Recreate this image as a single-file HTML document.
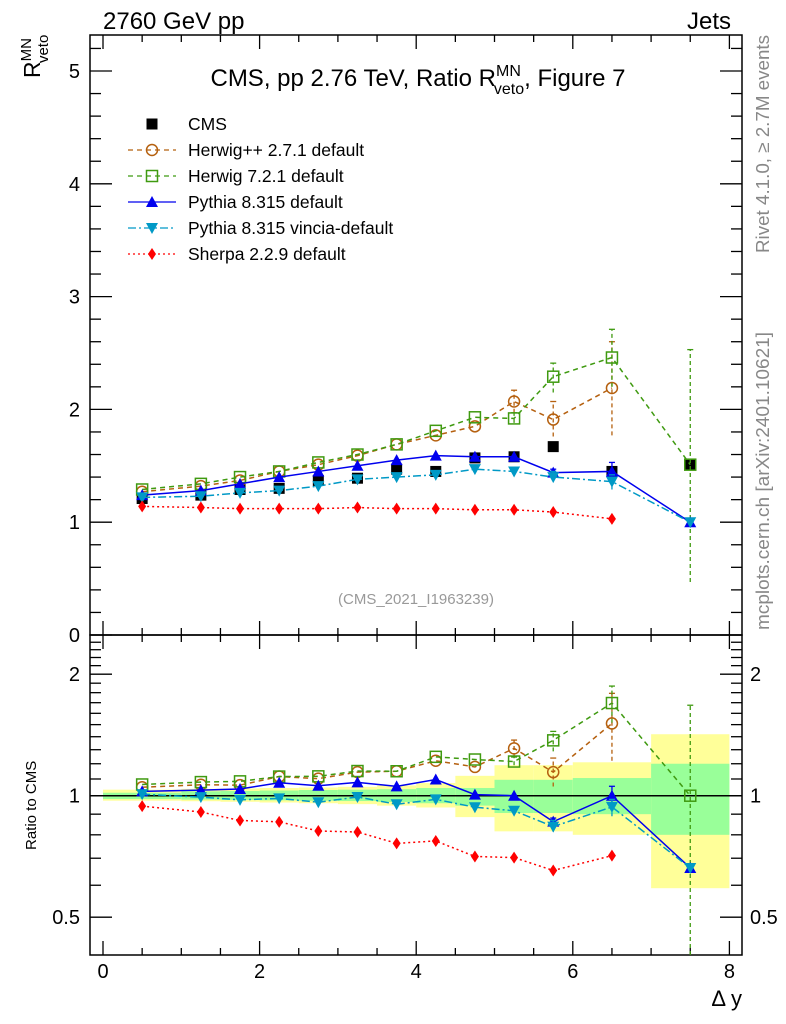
<!DOCTYPE html>
<html><head><meta charset="utf-8">
<style>
body{margin:0;background:#fff;}
svg{display:block;font-family:"Liberation Sans",sans-serif;}
</style></head>
<body>
<svg id="chart" width="786" height="1024" viewBox="0 0 786 1024" xmlns="http://www.w3.org/2000/svg">
<text x="103" y="29" font-size="24">2760 GeV pp</text>
<text x="731" y="29" font-size="24" text-anchor="end">Jets</text>
<text x="418" y="86" font-size="24" text-anchor="middle">CMS, pp 2.76 TeV, Ratio R<tspan font-size="16" dy="-10">MN</tspan><tspan font-size="16" dx="-27" dy="18">veto</tspan><tspan dy="-8">, Figure 7</tspan></text>
<text transform="translate(40,78) rotate(-90)" font-size="23">R<tspan font-size="15" dy="-9">MN</tspan><tspan font-size="15" dx="-25" dy="17">veto</tspan></text>
<text transform="translate(36,850) rotate(-90)" font-size="15">Ratio to CMS</text>
<text x="742" y="1006" font-size="22" text-anchor="end">Δ y</text>
<text transform="translate(769,253) rotate(-90)" font-size="18" fill="#888" textLength="218" lengthAdjust="spacingAndGlyphs">Rivet 4.1.0, ≥ 2.7M events</text>
<text transform="translate(769,630) rotate(-90)" font-size="18" fill="#888" textLength="298" lengthAdjust="spacingAndGlyphs">mcplots.cern.ch [arXiv:2401.10621]</text>
<text x="416" y="604" font-size="15" fill="#999" text-anchor="middle">(CMS_2021_I1963239)</text>
<g id="bands"></g><g id="axes"></g><g id="series"></g><g id="legend"></g>
</svg>
<script>
const xs = [0.5,1.25,1.75,2.25,2.75,3.25,3.75,4.25,4.75,5.25,5.75,6.5,7.5];
const cms = [1.21,1.24,1.29,1.30,1.37,1.39,1.47,1.45,1.57,1.58,1.67,1.45,1.51];
const herwigpp = [1.27,1.32,1.37,1.45,1.51,1.59,1.69,1.77,1.85,2.07,1.91,2.19,null];
const herwig7 = [1.29,1.34,1.40,1.45,1.53,1.60,1.69,1.81,1.93,1.92,2.29,2.46,1.51];
const pythia = [1.24,1.28,1.34,1.40,1.45,1.50,1.55,1.59,1.58,1.58,1.44,1.45,1.00];
const vincia = [1.22,1.23,1.26,1.28,1.32,1.38,1.40,1.42,1.47,1.45,1.40,1.36,1.00];
const sherpa = [1.14,1.13,1.12,1.12,1.12,1.13,1.12,1.12,1.11,1.11,1.09,1.03,null];
const herwigppErrLo = [null,null,null,null,null,null,null,null,null,1.97,1.76,1.77,null];
const herwigppErrHi = [null,null,null,null,null,null,null,null,null,2.17,2.07,2.60,null];
const herwig7ErrLo = [null,null,null,null,null,null,null,null,null,1.88,2.15,2.20,0.47];
const herwig7ErrHi = [null,null,null,null,null,null,null,null,null,1.97,2.41,2.71,2.53];
const pythiaErrLo = [null,null,null,null,null,null,null,null,null,null,1.42,1.40,null];
const pythiaErrHi = [null,null,null,null,null,null,null,null,null,null,1.47,1.53,null];
const vinciaErrLo = [null,null,null,null,null,null,null,null,null,null,1.36,1.29,null];
const vinciaErrHi = [null,null,null,null,null,null,null,null,null,null,1.45,1.42,null];
const binEdges = [0,1,1.5,2,2.5,3,3.5,4,4.5,5,5.5,6,7,8];
const bandOuterLo = [0.972,0.969,0.966,0.962,0.958,0.953,0.945,0.935,0.885,0.816,0.816,0.80,0.59];
const bandOuterHi = [1.035,1.04,1.042,1.045,1.048,1.052,1.06,1.075,1.12,1.19,1.19,1.21,1.42];
const bandInnerLo = [0.981,0.978,0.976,0.974,0.972,0.97,0.965,0.958,0.945,0.906,0.906,0.90,0.80];
const bandInnerHi = [1.017,1.025,1.027,1.03,1.033,1.035,1.038,1.045,1.045,1.095,1.095,1.106,1.20];
const xTicks = [0,2,4,6,8];
const yTicks = [0,1,2,3,4,5];
const rTicks = [0.5,1,2];

const NS='http://www.w3.org/2000/svg';
const L=90,R=742,T=35,MID=635,B=955;
const X=v=>103+v*78.3;
const Y=v=>635-v*112.8;
const RY=v=>795.7-121.5*Math.log2(v);
function mk(parent,tag,attrs){const e=document.createElementNS(NS,tag);for(const k in attrs)e.setAttribute(k,attrs[k]);parent.appendChild(e);return e;}
const gB=document.getElementById('bands'),gA=document.getElementById('axes'),gS=document.getElementById('series'),gL=document.getElementById('legend');

for(let i=0;i<bandOuterLo.length;i++){
  const x0=X(binEdges[i]),x1=X(binEdges[i+1]);
  let r=mk(gB,'rect',{x:x0,y:RY(bandOuterHi[i]),width:x1-x0,height:RY(bandOuterLo[i])-RY(bandOuterHi[i]),fill:'#ffff99'});
  
  
  r=mk(gB,'rect',{x:x0,y:RY(bandInnerHi[i]),width:x1-x0,height:RY(bandInnerLo[i])-RY(bandInnerHi[i]),fill:'#99ff99'});
  
  
}
let ref=mk(gB,'line',{x1:L,x2:R,y1:RY(1),y2:RY(1),stroke:'#000','stroke-width':1.5});



let f=mk(gA,'rect',{x:L,y:T,width:R-L,height:MID-T,fill:'none',stroke:'#000','stroke-width':1.5});


f=mk(gA,'rect',{x:L,y:MID,width:R-L,height:B-MID,fill:'none',stroke:'#000','stroke-width':1.5});


function tk(x1,y1,x2,y2){mk(gA,'line',{x1,y1,x2,y2,stroke:'#000','stroke-width':1.3});}
for(let v=0;v<=8.001;v+=0.5){
  const major=Math.abs(v-Math.round(v/2)*2)<1e-6, len=major?14:7;
  const x=X(v);
  tk(x,T,x,T+len);tk(x,MID,x,MID-len);tk(x,MID,x,MID+len);tk(x,B,x,B-len);
}
xTicks.forEach(v=>{const t=mk(gA,'text',{x:X(v),y:978,'font-size':20,'text-anchor':'middle'});t.textContent=v;

});
for(let i=0;i<=26;i++){const v=i*0.2;const y=Y(v);if(y<T)continue;const major=i%5==0,len=major?22:11;tk(L,y,L+len,y);tk(R,y,R-len,y);}
yTicks.forEach(v=>{const t=mk(gA,'text',{x:80,y:Y(v)+7,'font-size':20,'text-anchor':'end'});t.textContent=v;

});
const rMinor=[0.4,0.5,0.6,0.7,0.8,0.9,1,1.1,1.2,1.3,1.4,1.5,1.6,1.7,1.8,1.9,2,2.1,2.2,2.3,2.4];
rMinor.forEach(v=>{const y=RY(v);if(y<MID||y>B)return;const major=rTicks.includes(v),len=major?22:11;tk(L,y,L+len,y);tk(R,y,R-len,y);});
rTicks.forEach(v=>{let t=mk(gA,'text',{x:80,y:RY(v)+7,'font-size':20,'text-anchor':'end'});t.textContent=v;


t=mk(gA,'text',{x:750,y:RY(v)+7,'font-size':20});t.textContent=v;

});

function marker(g,type,x,y,color){
  let e;
  if(type==='sq') e=mk(g,'rect',{x:x-5.5,y:y-5.5,width:11,height:11,fill:color});
  else if(type==='circ') e=mk(g,'circle',{cx:x,cy:y,r:5.5,fill:'none',stroke:color,'stroke-width':1.5});
  else if(type==='osq') e=mk(g,'rect',{x:x-5.5,y:y-5.5,width:11,height:11,fill:'none',stroke:color,'stroke-width':1.5});
  else if(type==='up') e=mk(g,'polygon',{points:`${x},${y-6} ${x-6},${y+5} ${x+6},${y+5}`,fill:color});
  else if(type==='down') e=mk(g,'polygon',{points:`${x},${y+6} ${x-6},${y-5} ${x+6},${y-5}`,fill:color});
  else if(type==='dia') e=mk(g,'polygon',{points:`${x},${y-6} ${x-4},${y} ${x},${y+6} ${x+4},${y}`,fill:color});
  return e;
}
const series=[
  {name:'herwigpp',vals:herwigpp,lo:herwigppErrLo,hi:herwigppErrHi,color:'#b5600f',dash:'5,4',m:'circ',w:1.5},
  {name:'herwig7',vals:herwig7,lo:herwig7ErrLo,hi:herwig7ErrHi,color:'#3f9a10',dash:'5,4',m:'osq',w:1.5},
  {name:'pythia',vals:pythia,lo:pythiaErrLo,hi:pythiaErrHi,color:'#0000ee',dash:null,m:'up',w:1.5},
  {name:'vincia',vals:vincia,lo:vinciaErrLo,hi:vinciaErrHi,color:'#0099c6',dash:'8,3,2,3',m:'down',w:1.5},
  {name:'sherpa',vals:sherpa,lo:xs.map(()=>null),hi:xs.map(()=>null),color:'#ff0000',dash:'2,3',m:'dia',w:1.5},
];
function drawSeries(s,yf,ratio){
  const g=mk(gS,'g',{});
  
  
  const pts=[];
  xs.forEach((x,i)=>{let v=s.vals[i];if(v==null)return;if(ratio)v=v/cms[i];pts.push([X(x),yf(v)]);});
  const ln=mk(g,'polyline',{points:pts.map(p=>p.join(',')).join(' '),fill:'none',stroke:s.color,'stroke-width':s.w});
  if(s.dash)ln.setAttribute('stroke-dasharray',s.dash);
  xs.forEach((x,i)=>{
    if(s.lo[i]==null||s.vals[i]==null)return;
    let lo=s.lo[i],hi=s.hi[i];if(ratio){lo/=cms[i];hi/=cms[i];}
    const y1=Math.min(yf(lo),ratio?B:MID),y2=yf(hi);
    const e=mk(g,'line',{x1:X(x),x2:X(x),y1:y1,y2:y2,stroke:s.color,'stroke-width':1.3});
    if(s.dash)e.setAttribute('stroke-dasharray','4,3');
    mk(g,'line',{x1:X(x)-3,x2:X(x)+3,y1:y2,y2:y2,stroke:s.color,'stroke-width':1.3});
  });
  xs.forEach((x,i)=>{let v=s.vals[i];if(v==null)return;if(ratio)v=v/cms[i];
    const m=marker(g,s.m,X(x),yf(v),s.color);
    
    });
}
const gc=mk(gS,'g',{});


xs.forEach((x,i)=>{const m=marker(gc,'sq',X(x),Y(cms[i]),'#000');

});
series.forEach(s=>drawSeries(s,Y,false));
series.forEach(s=>drawSeries(s,RY,true));

const legNames=['CMS','Herwig++ 2.7.1 default','Herwig 7.2.1 default','Pythia 8.315 default','Pythia 8.315 vincia-default','Sherpa 2.2.9 default'];
legNames.forEach((n,i)=>{
  const y=124+i*26;
  const g=mk(gL,'g',{});
  
  
  if(i===0){marker(g,'sq',152,y,'#000');}
  else{const s=series[i-1];const l=mk(g,'line',{x1:128,x2:176,y1:y,y2:y,stroke:s.color,'stroke-width':1.3});
    if(s.dash)l.setAttribute('stroke-dasharray',s.dash);
    marker(g,s.m,152,y,s.color);}
  const t=mk(g,'text',{x:188,y:y+6,'font-size':17.5});t.textContent=n;
});
</script>
</body></html>
